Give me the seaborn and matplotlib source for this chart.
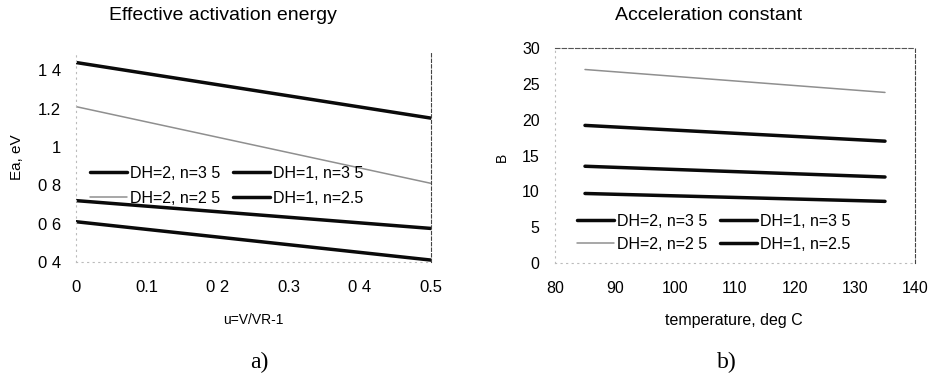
import numpy as np
import pandas as pd
import matplotlib
matplotlib.use("Agg")
import matplotlib.pyplot as plt
import seaborn as sns

# ---- data -------------------------------------------------------------
series_labels = ["DH=2, n=3 5", "DH=2, n=2 5", "DH=1, n=3 5", "DH=1, n=2.5"]
series_colors = ["#0a0a0a", "#8f8f8f", "#0a0a0a", "#0a0a0a"]
series_widths = [2.5, 1.1, 2.5, 2.5]

u_vals = [0.0, 0.5]
ea_dh2_n35 = [1.44, 1.15]
ea_dh2_n25 = [1.21, 0.81]
ea_dh1_n35 = [0.72, 0.575]
ea_dh1_n25 = [0.61, 0.41]

temp_vals = [85, 135]
b_dh2_n35 = [19.2, 17.0]
b_dh2_n25 = [27.0, 23.8]
b_dh1_n35 = [13.5, 12.0]
b_dh1_n25 = [9.7, 8.6]

ea_ticks = [0.4, 0.6, 0.8, 1.0, 1.2, 1.4]
ea_tick_labels = ["0 4", "0 6", "0 8", "1", "1.2", "1 4"]
u_ticks = [0.0, 0.1, 0.2, 0.3, 0.4, 0.5]
u_tick_labels = ["0", "0.1", "0 2", "0.3", "0 4", "0.5"]
b_ticks = [0, 5, 10, 15, 20, 25, 30]
t_ticks = [80, 90, 100, 110, 120, 130, 140]

ea_series = [ea_dh2_n35, ea_dh2_n25, ea_dh1_n35, ea_dh1_n25]
b_series = [b_dh2_n35, b_dh2_n25, b_dh1_n35, b_dh1_n25]

# ---- style ------------------------------------------------------------
sns.set_theme(style="white")
plt.rcParams["font.family"] = ["Liberation Sans", "DejaVu Sans"]
plt.rcParams["text.color"] = "#000000"
plt.rcParams["xtick.color"] = "#000000"
plt.rcParams["ytick.color"] = "#000000"

W, H = 929, 381
fig = plt.figure(figsize=(W / 100, H / 100), dpi=100)
fig.patch.set_facecolor("white")


def px_axes(x0, y0, x1, y1):
    return fig.add_axes([x0 / W, 1 - y1 / H, (x1 - x0) / W, (y1 - y0) / H])


def draw_panel(ax, xs, ys_list, tick_size):
    for ys, lab, col, lw in zip(ys_list, series_labels, series_colors, series_widths):
        df = pd.DataFrame({"x": xs, "y": ys})
        sns.lineplot(data=df, x="x", y="y", ax=ax, color=col, linewidth=lw,
                     label=lab, legend=False)
    ax.set_xlabel("")
    ax.set_ylabel("")
    for s in ["left", "bottom"]:
        ax.spines[s].set_color("#bbbbbb")
        ax.spines[s].set_linestyle((0, (1, 4)))
        ax.spines[s].set_linewidth(0.8)
    ax.spines["right"].set_color("#444444")
    ax.spines["right"].set_linestyle((0, (3, 2)))
    ax.spines["right"].set_linewidth(0.8)
    ax.tick_params(length=0, labelsize=tick_size)
    ax.tick_params(axis="y", pad=11)
    ax.tick_params(axis="x", pad=13)
    handles, labels = ax.get_legend_handles_labels()
    return handles, labels


legend_kw = dict(ncol=2, frameon=False, fontsize=11.5, loc="upper left",
                 handlelength=2.3, handletextpad=0.2, columnspacing=0.8,
                 borderpad=0, borderaxespad=0)

# ---- panel a) ---------------------------------------------------------
ax1 = px_axes(76, 51, 431, 262)
h, l = draw_panel(ax1, u_vals, ea_series, 12)
ax1.set_xlim(0, 0.5)
ax1.set_ylim(0.4, 1.5)
ax1.set_xticks(u_ticks, u_tick_labels)
ax1.set_yticks(ea_ticks, ea_tick_labels)
ax1.spines["top"].set_visible(False)
ax1.legend(h, l, bbox_to_anchor=(90 / W, 1 - 166 / H),
           bbox_transform=fig.transFigure, labelspacing=0.62, **legend_kw)

# ---- panel b) ---------------------------------------------------------
ax2 = px_axes(555, 48, 915, 263)
h, l = draw_panel(ax2, temp_vals, b_series, 11.5)
ax2.set_xlim(80, 140)
ax2.set_ylim(0, 30)
ax2.set_xticks(t_ticks)
ax2.set_yticks(b_ticks)
ax2.spines["top"].set_color("#555555")
ax2.spines["top"].set_linestyle((0, (4, 2)))
ax2.spines["top"].set_linewidth(0.8)
ax2.legend(h, l, bbox_to_anchor=(577 / W, 1 - 214 / H),
           bbox_transform=fig.transFigure, labelspacing=0.48, **legend_kw)

# ---- titles, axis labels and panel tags -----------------------------
fig.text(223 / W, 1 - 15 / H, "Effective activation energy", ha="center",
         va="center", fontsize=14)
fig.text(709 / W, 1 - 15 / H, "Acceleration constant", ha="center",
         va="center", fontsize=14)
fig.text(253 / W, 1 - 320 / H, "u=V/VR-1", ha="center", va="center", fontsize=10)
fig.text(734 / W, 1 - 320 / H, "temperature, deg C", ha="center", va="center",
         fontsize=11.5)
fig.text(17 / W, 1 - 157 / H, "Ea, eV", ha="center", va="center", rotation=90,
         fontsize=11)
fig.text(502 / W, 1 - 157 / H, "B", ha="center", va="center", rotation=90,
         fontsize=10)
fig.text(259 / W, 1 - 362 / H, "a)", ha="center", va="center", fontsize=17,
         family=["Liberation Serif", "DejaVu Serif"])
fig.text(727 / W, 1 - 362 / H, "b)", ha="center", va="center", fontsize=17,
         family=["Liberation Serif", "DejaVu Serif"])

fig.savefig("out.png", dpi=100, facecolor="white")
